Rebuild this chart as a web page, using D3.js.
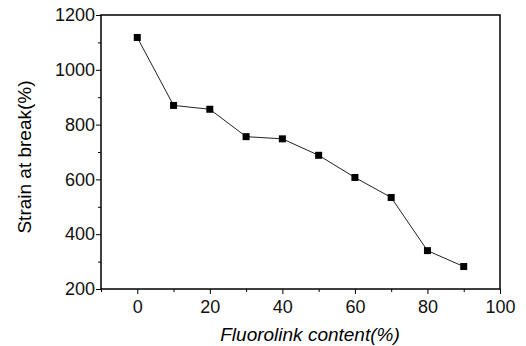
<!DOCTYPE html>
<html>
<head>
<meta charset="utf-8">
<script src="https://cdn.jsdelivr.net/npm/d3@7"></script>
<style>
  body { margin: 0; background: #fff; }
  svg { font-family: "Liberation Sans", Arial, Helvetica, sans-serif; }
  .axis path, .axis line { stroke: #000; }
  .axis text { font-size: 18px; fill: #111; }
</style>
</head>
<body>
<div id="container"></div>
<script>
var content = [0, 10, 20, 30, 40, 50, 60, 70, 80, 90];
var strain = [1118, 870, 856, 756, 748, 688, 607, 534, 340, 282];
var xTicks = [0, 20, 40, 60, 80, 100];
var yTicks = [200, 400, 600, 800, 1000, 1200];

var width = 526;
var height = 346;
var plotLeft = 101, plotRight = 500, plotTop = 15, plotBottom = 289;

var xScale = d3.scaleLinear().domain([-10, 100]).range([plotLeft, plotRight]);
var yScale = d3.scaleLinear().domain([200, 1200]).range([plotBottom, plotTop]);

var svg = d3.select("#container")
            .append("svg")
            .attr("width", width)
            .attr("height", height);

// frame
svg.append("rect")
   .attr("x", plotLeft)
   .attr("y", plotTop)
   .attr("width", plotRight - plotLeft)
   .attr("height", plotBottom - plotTop)
   .attr("fill", "none")
   .attr("stroke", "#000")
   .attr("stroke-width", 1.5);

// minor ticks
svg.append("g")
   .attr("class", "axis")
   .attr("transform", "translate(0," + plotBottom + ")")
   .call(d3.axisBottom(xScale).tickValues([-10, 10, 30, 50, 70, 90]).tickSize(3).tickFormat(""))
   .select(".domain").remove();

svg.append("g")
   .attr("class", "axis")
   .attr("transform", "translate(" + plotLeft + ",0)")
   .call(d3.axisLeft(yScale).tickValues([300, 500, 700, 900, 1100]).tickSize(3).tickFormat(""))
   .select(".domain").remove();

// major ticks
var xAxis = svg.append("g")
   .attr("class", "axis")
   .attr("transform", "translate(0," + plotBottom + ")")
   .call(d3.axisBottom(xScale).tickValues(xTicks).tickSize(5).tickPadding(6).tickFormat(d3.format("d")));
xAxis.select(".domain").remove();

var yAxis = svg.append("g")
   .attr("class", "axis")
   .attr("transform", "translate(" + plotLeft + ",0)")
   .call(d3.axisLeft(yScale).tickValues(yTicks).tickSize(5).tickPadding(1).tickFormat(d3.format("d")));
yAxis.select(".domain").remove();

// line
var line = d3.line()
             .x(function(d, i) { return xScale(content[i]); })
             .y(function(d) { return yScale(d); });

svg.append("path")
   .datum(strain)
   .attr("d", line)
   .attr("fill", "none")
   .attr("stroke", "#222")
   .attr("stroke-width", 1);

svg.selectAll("rect.pt")
   .data(strain)
   .enter()
   .append("rect")
   .attr("class", "pt")
   .attr("x", function(d, i) { return xScale(content[i]) - 3.5; })
   .attr("y", function(d) { return yScale(d) - 3.5; })
   .attr("width", 7)
   .attr("height", 7)
   .attr("fill", "#000");

svg.append("text")
   .attr("x", 310)
   .attr("y", 341)
   .attr("text-anchor", "middle")
   .style("font-size", "19px")
   .style("font-style", "italic")
   .text("Fluorolink content(%)");

svg.append("text")
   .attr("transform", "rotate(-90)")
   .attr("x", -157)
   .attr("y", 31)
   .attr("text-anchor", "middle")
   .style("font-size", "19px")
   .text("Strain at break(%)");
</script>
</body>
</html>
